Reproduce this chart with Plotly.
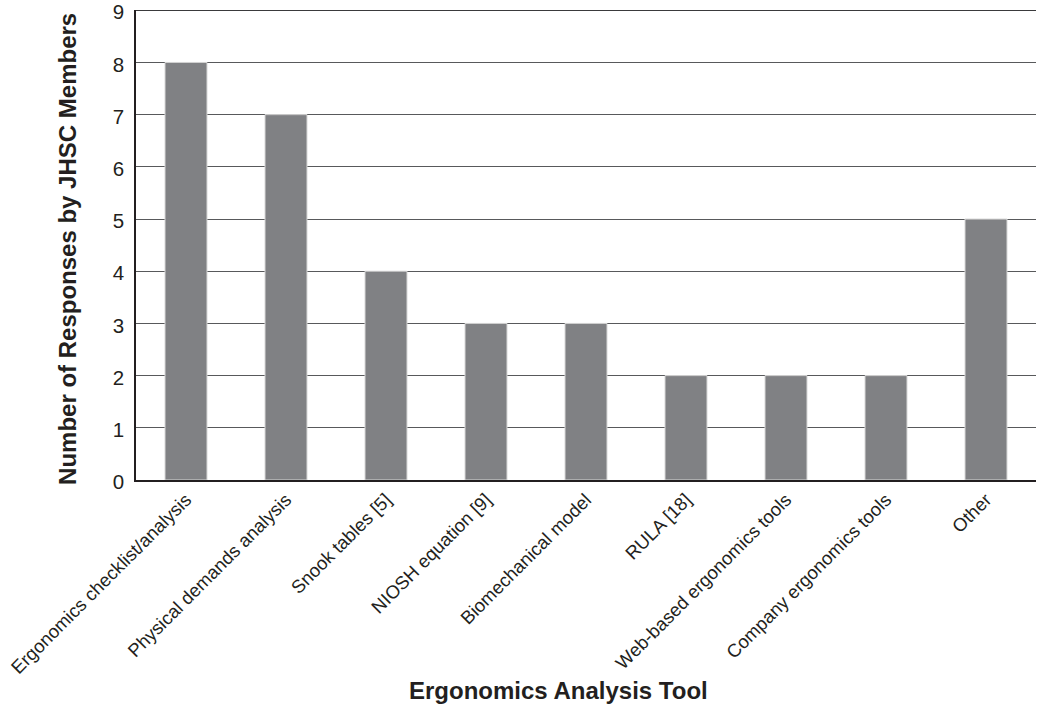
import plotly.graph_objects as go

categories = [
    "Ergonomics checklist/analysis",
    "Physical demands analysis",
    "Snook tables [5]",
    "NIOSH equation [9]",
    "Biomechanical model",
    "RULA [18]",
    "Web-based ergonomics tools",
    "Company ergonomics tools",
    "Other",
]
responses = [8, 7, 4, 3, 3, 2, 2, 2, 5]
y_ticks = [0, 1, 2, 3, 4, 5, 6, 7, 8, 9]

x_title = "Ergonomics Analysis Tool"
y_title = "Number of Responses by JHSC Members"

fig = go.Figure(
    go.Bar(
        x=categories,
        y=responses,
        marker=dict(color="#808184", line=dict(color="#d8d8d8", width=1)),
    )
)

fig.update_layout(
    width=1049,
    height=706,
    margin=dict(l=136, r=13, t=10, b=226),
    plot_bgcolor="white",
    paper_bgcolor="white",
    bargap=0.58,
    showlegend=False,
    font=dict(family="Liberation Sans, Arial, sans-serif", color="#231f20"),
    annotations=[
        dict(
            text="<b>" + x_title + "</b>",
            xref="paper", yref="paper",
            x=0.469, y=-0.447,
            xanchor="center", yanchor="middle",
            showarrow=False,
            font=dict(size=24, color="#231f20"),
        ),
        dict(
            text="<b>" + y_title + "</b>",
            xref="paper", yref="paper",
            x=-0.0756, y=0.4915,
            xanchor="center", yanchor="middle",
            textangle=-90,
            showarrow=False,
            font=dict(size=24, color="#231f20"),
        ),
    ],
    shapes=[
        dict(
            type="line",
            xref="paper", yref="y",
            x0=0, x1=1, y0=y_ticks[-1], y1=y_ticks[-1],
            line=dict(color="#3a3a3c", width=1.5),
            layer="above",
        )
    ],
)

fig.update_xaxes(
    automargin=False,
    tickangle=-45,
    tickfont=dict(size=18.5, color="#231f20"),
    showline=True,
    linecolor="#231f20",
    linewidth=1.5,
    showgrid=False,
    ticks="",
)

fig.update_yaxes(
    automargin=False,
    range=[0, 9.005],
    tickvals=y_ticks,
    tickfont=dict(size=20.5, color="#231f20"),
    showline=True,
    linecolor="#231f20",
    linewidth=1.5,
    showgrid=True,
    gridcolor="#58595b",
    gridwidth=1.3,
    ticks="",
    ticklen=0,
    zeroline=False,
    ticklabeloverflow="allow",
    ticklabelstandoff=6,
    ticklabelshift=2,
)

fig.write_html(
    "out.html",
    config={"displayModeBar": False},
    post_script="document.body.style.margin='0';",
)
